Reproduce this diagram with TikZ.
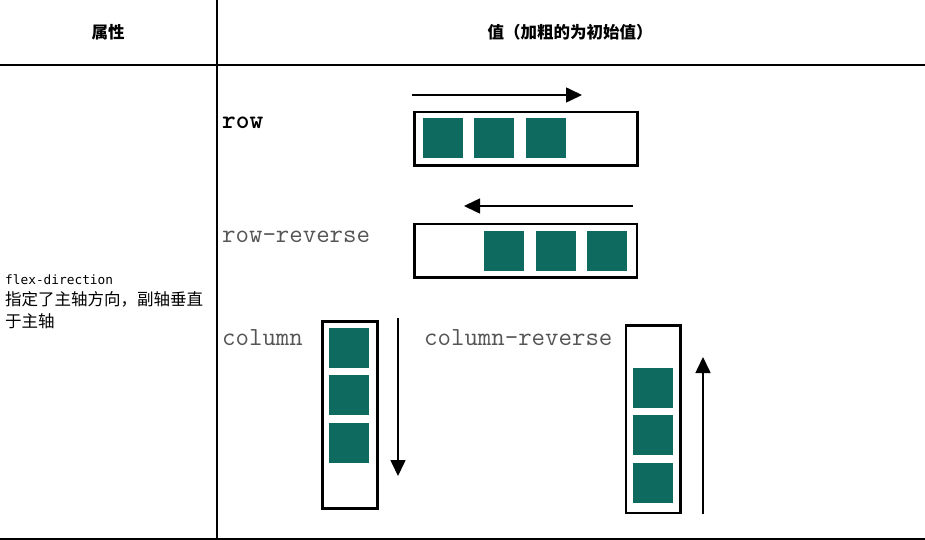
\documentclass[tikz,border=0pt]{standalone}
\usepackage{fontspec}
\newfontfamily\cjk{Noto Sans CJK SC}
\newfontfamily\dmono{DejaVu Sans Mono}
\usetikzlibrary{arrows.meta}
\definecolor{tealbox}{RGB}{14,106,94}
\definecolor{labgray}{RGB}{85,85,85}
\begin{document}
\begin{tikzpicture}[x=1pt,y=-1pt,
  frame/.style={draw=black, line width=2.6pt, inner sep=0pt, fill=white},
  item/.style={fill=tealbox, draw=none, minimum width=40pt, minimum height=40pt, inner sep=0pt},
  flow/.style={line width=1.6pt, -{Triangle[length=16pt,width=15pt]}},
  lbl/.style={font=\ttfamily\fontsize{26.1}{28}\selectfont, text=labgray, anchor=base west, inner sep=0pt},
  head/.style={font=\cjk\bfseries\fontsize{16.5}{20}\selectfont, inner sep=0pt},
  desc/.style={anchor=base west, inner sep=0pt, font=\cjk\fontsize{16.5}{20}\selectfont},
  rule/.style={line width=1.6pt, draw=black}]
\useasboundingbox (0,0) rectangle (925,540);
% table rules
\draw[rule] (0,65) -- (925,65);
\draw[rule] (0,539) -- (925,539);
\draw[rule] (217,0) -- (217,540);
% header
\node[head] (h1) at (108,32) {属性};
\node[head] (h2) at (570,32) {值（加粗的为初始值）};
% left cell
\node[desc, font=\dmono\fontsize{12.8}{14}\selectfont] (d1) at (5,284) {flex-direction};
\node[desc] (d2) at (5,305.7) {指定了主轴方向，副轴垂直};
\node[desc] (d3) at (5,327.7) {于主轴};
% labels
\node[lbl, text=black, font=\ttfamily\bfseries\fontsize{26.1}{28}\selectfont] (lrow) at (222,128.5) {row};
\node[lbl] (lrr) at (222,242) {row-reverse};
\node[lbl] (lcol) at (222,345) {column};
\node[lbl] (lcr) at (424,345) {column-reverse};
% row
\coordinate (ra1) at (412,95);
\coordinate (ra2) at (582,95);
\draw[flow] (ra1) -- (ra2);
\node[frame, minimum width=223pt, minimum height=53.5pt] (rowbox) at (526,138.9) {};
\node[item] (r1) at (442.7,138.3) {};
\node[item] (r2) at (494.2,138.3) {};
\node[item] (r3) at (545.7,138.3) {};
% row-reverse
\coordinate (rra1) at (633,206);
\coordinate (rra2) at (464,206);
\draw[flow] (rra1) -- (rra2);
\node[frame, minimum width=222.6pt, minimum height=53.9pt] (rrbox) at (525.8,250.8) {};
\node[item] (rr1) at (504.3,250.7) {};
\node[item] (rr2) at (556,250.7) {};
\node[item] (rr3) at (607.3,250.7) {};
% column
\coordinate (ca1) at (398,318);
\coordinate (ca2) at (398,476);
\draw[flow] (ca1) -- (ca2);
\node[frame, minimum width=55pt, minimum height=187pt] (colbox) at (349.7,414.7) {};
\node[item] (c1) at (349.3,347.7) {};
\node[item] (c2) at (349.3,395) {};
\node[item] (c3) at (349.3,442.7) {};
% column-reverse
\coordinate (cra1) at (703,514);
\coordinate (cra2) at (703,357);
\draw[flow] (cra1) -- (cra2);
\node[frame, minimum width=54.3pt, minimum height=187.6pt] (crbox) at (653.3,419) {};
\node[item] (cr1) at (653.3,387.7) {};
\node[item] (cr2) at (653.3,435) {};
\node[item] (cr3) at (653.3,482.7) {};
\end{tikzpicture}
\end{document}
